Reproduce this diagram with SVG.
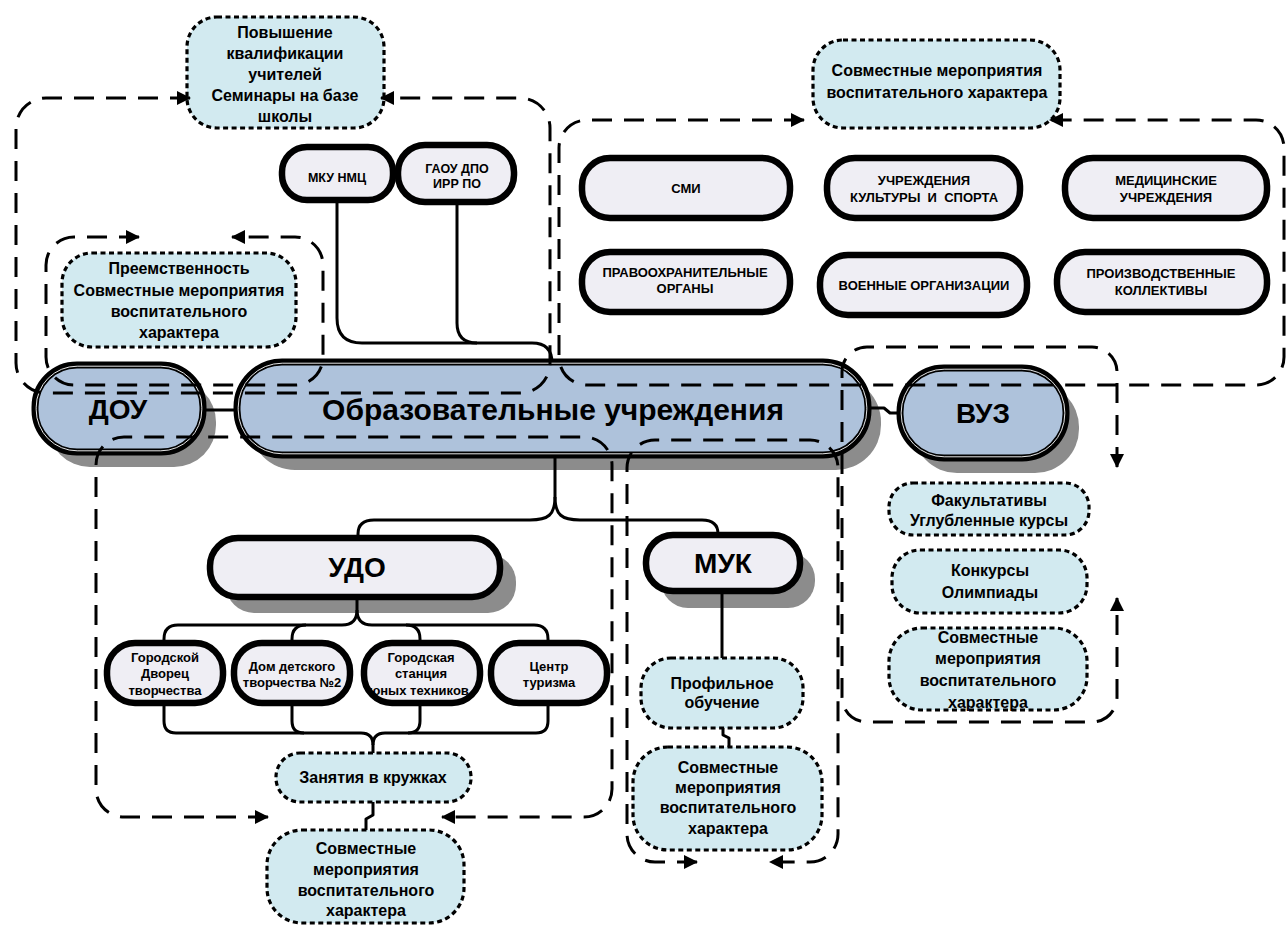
<svg xmlns="http://www.w3.org/2000/svg" width="1287" height="926" viewBox="0 0 1287 926">
<style>
.t{font-family:"Liberation Sans",Arial,sans-serif;font-weight:bold;text-anchor:middle;fill:#000}
.s30{font-size:30px}.s28{font-size:28px}.s16{font-size:16px}.s13{font-size:13px}.s12{font-size:12.5px}
.blue{fill:#d2eaf0;stroke:#000;stroke-width:3.2;stroke-dasharray:5 3.5}
.grey{fill:#efeef4;stroke:#000;stroke-width:6.5}
.steel{fill:#aec2db;stroke:#000;stroke-width:7}
.inner{fill:none;stroke:#fff;stroke-width:0.9}
.shadow{fill:#8c8c8c}
.conn{fill:none;stroke:#000;stroke-width:3;stroke-linejoin:round}
.grp{fill:none;stroke:#000;stroke-width:3;stroke-dasharray:20 12;marker-start:url(#ah);marker-end:url(#ah)}
</style>
<defs>
<marker id="ah" viewBox="0 0 14 14" refX="13" refY="7" markerWidth="14" markerHeight="14" markerUnits="userSpaceOnUse" orient="auto-start-reverse">
<path d="M0 0 L14 7 L0 14 z" fill="#000"/>
</marker>
<clipPath id="c3clip"><rect x="369" y="648" width="106" height="50"/></clipPath>
</defs>
<rect width="1287" height="926" fill="#fff"/>

<g id="shadows">
<rect class="shadow" x="250" y="377" width="631" height="93" rx="45"/>
<rect class="shadow" x="48" y="380" width="168" height="87" rx="42"/>
<rect class="shadow" x="913" y="383" width="166" height="90" rx="44"/>
<rect class="shadow" x="226" y="554" width="290" height="59" rx="28"/>
<rect class="shadow" x="661" y="552" width="154" height="56" rx="27"/>
</g>

<g id="connectors">
<path class="conn" d="M337 200 V318 Q337 343 362 343 H532 Q552 343 552 363"/>
<path class="conn" d="M457 202 V323 Q457 343 477 343"/>
<path class="conn" d="M203 410 H237"/>
<path class="conn" d="M868 408 H884 L890 413 H900"/>
<path class="conn" d="M555 455 V497 C555 515 548 520 530 520 H374 Q358 520 358 534 V538"/>
<path class="conn" d="M555 497 C555 515 562 520 580 520 H702 Q718 520 718 534 V537"/>
<path class="conn" d="M357 597 V610 Q357 625 342 625 H178 Q164 625 164 639 V643"/>
<path class="conn" d="M357 610 Q357 625 372 625 H534 Q548 625 548 639 V643"/>
<path class="conn" d="M292 643 V639 Q292 625 306 625"/>
<path class="conn" d="M420 643 V639 Q420 625 406 625"/>
<path class="conn" d="M164 703 V721 Q164 733 176 733 H361 Q373 733 373 745 V753"/>
<path class="conn" d="M548 703 V721 Q548 733 536 733 H385 Q373 733 373 745"/>
<path class="conn" d="M292 703 V721 Q292 733 304 733"/>
<path class="conn" d="M420 703 V721 Q420 733 408 733"/>
<path class="conn" d="M373 802 V815 L366 819 V830"/>
<path class="conn" d="M722 590 V658"/>
<path class="conn" d="M723 728 V735 L729 738 V747"/>
</g>

<g id="n-povyshenie">
<rect class="blue" x="187" y="17" width="197" height="111" rx="30"/>
<text class="t s16"><tspan x="285" y="38">Повышение</tspan><tspan x="285" y="59">квалификации</tspan><tspan x="285" y="80">учителей</tspan><tspan x="285" y="101">Семинары на базе</tspan><tspan x="285" y="122">школы</tspan></text>
</g>
<g id="n-mku">
<rect class="grey" x="282" y="147" width="111" height="53" rx="25"/>
<text class="t s12" x="337" y="182">МКУ НМЦ</text>
</g>
<g id="n-gaou">
<rect class="grey" x="398" y="145" width="116" height="57" rx="27"/>
<text class="t s12"><tspan x="457" y="173">ГАОУ ДПО</tspan><tspan x="457" y="188">ИРР ПО</tspan></text>
</g>
<g id="n-preemstv">
<rect class="blue" x="62" y="253" width="234" height="94" rx="30"/>
<text class="t s16"><tspan x="179" y="274">Преемственность</tspan><tspan x="179" y="296">Совместные мероприятия</tspan><tspan x="179" y="317">воспитательного</tspan><tspan x="179" y="338">характера</tspan></text>
</g>
<g id="n-sovm-top">
<rect class="blue" x="813" y="40" width="247" height="88" rx="30"/>
<text class="t s16"><tspan x="937" y="76">Совместные мероприятия</tspan><tspan x="937" y="98">воспитательного характера</tspan></text>
</g>
<g id="n-smi">
<rect class="grey" x="582" y="158" width="208" height="60" rx="28"/>
<text class="t s13" x="686" y="193">СМИ</text>
</g>
<g id="n-kult">
<rect class="grey" x="827" y="158" width="193" height="60" rx="28"/>
<text class="t s13"><tspan x="924" y="185">УЧРЕЖДЕНИЯ</tspan><tspan x="924" y="202" xml:space="preserve">КУЛЬТУРЫ  И  СПОРТА</tspan></text>
</g>
<g id="n-med">
<rect class="grey" x="1065" y="158" width="202" height="60" rx="28"/>
<text class="t s13"><tspan x="1166" y="185">МЕДИЦИНСКИЕ</tspan><tspan x="1166" y="202">УЧРЕЖДЕНИЯ</tspan></text>
</g>
<g id="n-pravo">
<rect class="grey" x="582" y="252" width="208" height="60" rx="28"/>
<text class="t s13"><tspan x="685" y="277">ПРАВООХРАНИТЕЛЬНЫЕ</tspan><tspan x="685" y="293">ОРГАНЫ</tspan></text>
</g>
<g id="n-voen">
<rect class="grey" x="820" y="255" width="207" height="60" rx="28"/>
<text class="t s13" x="924" y="290">ВОЕННЫЕ ОРГАНИЗАЦИИ</text>
</g>
<g id="n-proizv">
<rect class="grey" x="1057" y="252" width="210" height="60" rx="28"/>
<text class="t s13"><tspan x="1161" y="278">ПРОИЗВОДСТВЕННЫЕ</tspan><tspan x="1161" y="295">КОЛЛЕКТИВЫ</tspan></text>
</g>
<g id="n-main">
<rect class="steel" x="237" y="362" width="631" height="93" rx="45"/>
<rect class="inner" x="238.2" y="363.2" width="628.6" height="90.6" rx="44"/>
<text class="t s30" x="553" y="420">Образовательные учреждения</text>
</g>
<g id="n-dou">
<rect class="steel" x="35" y="365" width="168" height="87" rx="42"/>
<rect class="inner" x="36.2" y="366.2" width="165.6" height="84.6" rx="41"/>
<text class="t s28" x="118" y="419">ДОУ</text>
</g>
<g id="n-vuz">
<rect class="steel" x="900" y="368" width="166" height="90" rx="44"/>
<rect class="inner" x="901.2" y="369.2" width="163.6" height="87.6" rx="43"/>
<text class="t s28" x="983" y="423">ВУЗ</text>
</g>
<g id="n-udo">
<rect class="grey" x="210" y="538" width="290" height="59" rx="28"/>
<text class="t s28" x="357" y="577">УДО</text>
</g>
<g id="n-muk">
<rect class="grey" x="646" y="535" width="154" height="56" rx="27"/>
<text class="t s28" x="723" y="573">МУК</text>
</g>
<g id="n-c1">
<rect class="grey" x="107" y="643" width="116" height="60" rx="28"/>
<text class="t s13"><tspan x="165" y="662">Городской</tspan><tspan x="165" y="678">Дворец</tspan><tspan x="165" y="695">творчества</tspan></text>
</g>
<g id="n-c2">
<rect class="grey" x="234" y="643" width="116" height="60" rx="28"/>
<text class="t s13"><tspan x="292" y="671">Дом детского</tspan><tspan x="292" y="687">творчества №2</tspan></text>
</g>
<g id="n-c3">
<rect class="grey" x="364" y="643" width="116" height="60" rx="28"/>
<text class="t s13" clip-path="url(#c3clip)"><tspan x="421" y="662">Городская</tspan><tspan x="421" y="678">станция</tspan><tspan x="419" y="695">юных техников</tspan></text>
</g>
<g id="n-c4">
<rect class="grey" x="491" y="643" width="116" height="60" rx="28"/>
<text class="t s13"><tspan x="549" y="671">Центр</tspan><tspan x="549" y="687">туризма</tspan></text>
</g>
<g id="n-zanyatiya">
<rect class="blue" x="276" y="753" width="195" height="49" rx="24"/>
<text class="t s16" x="373" y="783">Занятия в кружках</text>
</g>
<g id="n-sovm-udo">
<rect class="blue" x="267" y="830" width="197" height="93" rx="35"/>
<text class="t s16"><tspan x="366" y="854">Совместные</tspan><tspan x="366" y="875">мероприятия</tspan><tspan x="366" y="896">воспитательного</tspan><tspan x="366" y="916">характера</tspan></text>
</g>
<g id="n-profil">
<rect class="blue" x="641" y="658" width="162" height="70" rx="30"/>
<text class="t s16"><tspan x="722" y="689">Профильное</tspan><tspan x="722" y="708">обучение</tspan></text>
</g>
<g id="n-sovm-muk">
<rect class="blue" x="633" y="747" width="189" height="103" rx="35"/>
<text class="t s16"><tspan x="728" y="773">Совместные</tspan><tspan x="728" y="793">мероприятия</tspan><tspan x="728" y="813">воспитательного</tspan><tspan x="728" y="834">характера</tspan></text>
</g>
<g id="n-fakult">
<rect class="blue" x="889" y="483" width="200" height="52" rx="24"/>
<text class="t s16"><tspan x="989" y="506">Факультативы</tspan><tspan x="989" y="526">Углубленные курсы</tspan></text>
</g>
<g id="n-konkurs">
<rect class="blue" x="892" y="550" width="195" height="63" rx="28"/>
<text class="t s16"><tspan x="990" y="576">Конкурсы</tspan><tspan x="990" y="598">Олимпиады</tspan></text>
</g>
<g id="n-sovm-vuz">
<rect class="blue" x="889" y="628" width="198" height="82" rx="33"/>
<text class="t s16"><tspan x="988" y="643">Совместные</tspan><tspan x="988" y="664">мероприятия</tspan><tspan x="988" y="686">воспитательного</tspan><tspan x="988" y="708">характера</tspan></text>
</g>

<g id="group-outlines">
<path class="grp" d="M190 98 H46 A30 30 0 0 0 16 128 V363 A30 30 0 0 0 46 393 H520 A30 30 0 0 0 550 363 V128 A30 30 0 0 0 520 98 H381"/>
<path class="grp" d="M139 237 H74 A28 28 0 0 0 46 265 V357 A28 28 0 0 0 74 385 H295 A28 28 0 0 0 323 357 V265 A28 28 0 0 0 295 237 H232"/>
<path class="grp" d="M804 120 H587 A28 28 0 0 0 559 148 V357 A28 28 0 0 0 587 385 H1256 A28 28 0 0 0 1284 357 V148 A28 28 0 0 0 1256 120 H1050"/>
<path class="grp" d="M268 817 H124 A28 28 0 0 1 96 789 V465 A28 28 0 0 1 124 437 H584 A28 28 0 0 1 612 465 V789 A28 28 0 0 1 584 817 H442"/>
<path class="grp" d="M697 862 H655 A28 28 0 0 1 627 834 V468 A28 28 0 0 1 655 440 H810 A28 28 0 0 1 838 468 V834 A28 28 0 0 1 810 862 H770"/>
<path class="grp" d="M1117 467 V372 A25 25 0 0 0 1092 347 H867 A25 25 0 0 0 842 372 V697 A25 25 0 0 0 867 722 H1092 A25 25 0 0 0 1117 697 V598"/>
</g>
</svg>
